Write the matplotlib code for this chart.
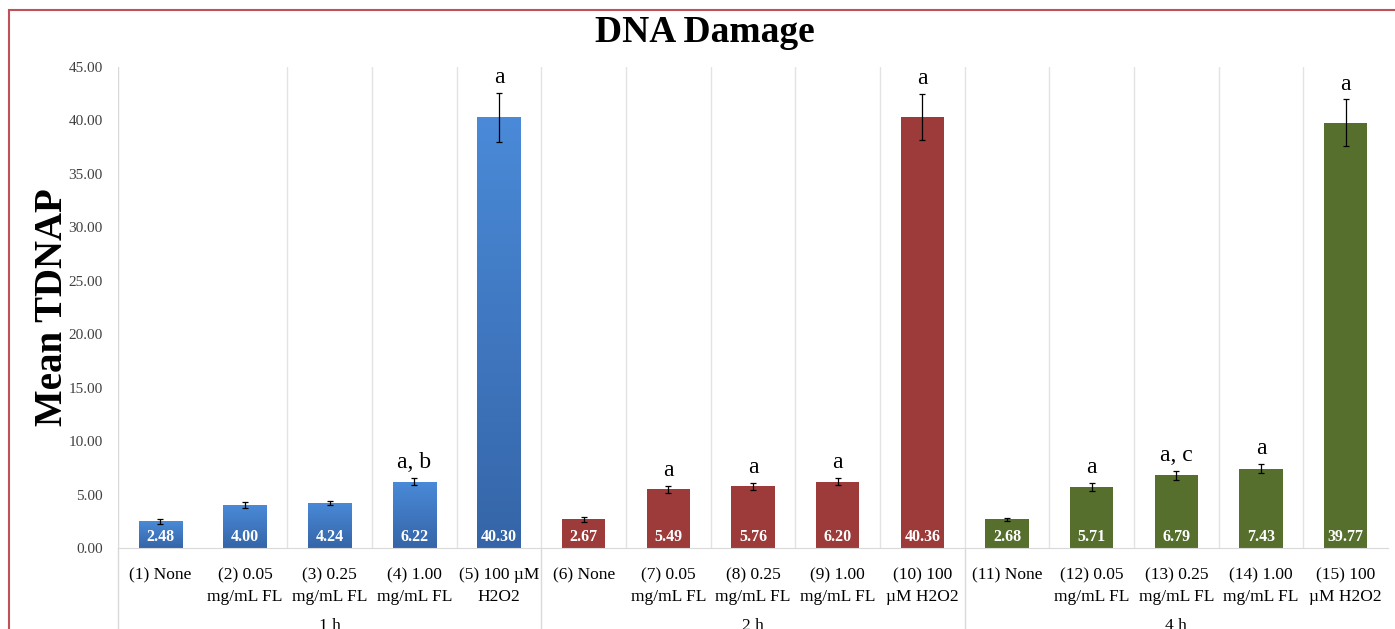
import matplotlib
matplotlib.use("Agg")
import matplotlib.pyplot as plt
import numpy as np
from matplotlib.colors import LinearSegmentedColormap
from matplotlib.patches import Rectangle
from matplotlib.transforms import blended_transform_factory

plt.rcParams["font.family"] = ["Liberation Serif", "DejaVu Serif"]

# data
labels = [
    "(1) None", "(2) 0.05\nmg/mL FL", "(3) 0.25\nmg/mL FL", "(4) 1.00\nmg/mL FL", "(5) 100 µM\nH2O2",
    "(6) None", "(7) 0.05\nmg/mL FL", "(8) 0.25\nmg/mL FL", "(9) 1.00\nmg/mL FL", "(10) 100\nµM H2O2",
    "(11) None", "(12) 0.05\nmg/mL FL", "(13) 0.25\nmg/mL FL", "(14) 1.00\nmg/mL FL", "(15) 100\nµM H2O2",
]
means = [2.48, 4.00, 4.24, 6.22, 40.30,
         2.67, 5.49, 5.76, 6.20, 40.36,
         2.68, 5.71, 6.79, 7.43, 39.77]
errors = [0.2, 0.3, 0.2, 0.35, 2.3,
          0.25, 0.3, 0.35, 0.35, 2.15,
          0.15, 0.35, 0.4, 0.45, 2.2]
letters = ["", "", "", "a, b", "a",
           "", "a", "a", "a", "a",
           "", "a", "a, c", "a", "a"]
groups = ["1 h", "2 h", "4 h"]
group_colors = ["#3E7BC8", "#9C3B39", "#566F2D"]
yticks = np.arange(0, 46, 5)

fig = plt.figure(figsize=(13.95, 6.29), dpi=100)
ax = fig.add_axes([118 / 1395, 1 - 548 / 629, 1270 / 1395, 481 / 629])

n = len(means)
x = np.arange(n)
width = 0.51
blue_cmap = LinearSegmentedColormap.from_list("blue", ["#3565A8", "#4A8AD8"])

for i in range(n):
    g = i // 5
    if g == 0:
        bar = ax.bar(x[i], means[i], width, color="none", edgecolor="none", zorder=2)[0]
        grad = np.linspace(0, 1, 256).reshape(-1, 1)
        im = ax.imshow(grad, extent=[x[i] - width / 2, x[i] + width / 2, 0, means[i]],
                       origin="lower", aspect="auto", cmap=blue_cmap, zorder=2)
        im.set_clip_path(bar)
    else:
        ax.bar(x[i], means[i], width, color=group_colors[g], edgecolor="none", zorder=2)
    ax.errorbar(x[i], means[i], yerr=errors[i], fmt="none", ecolor="black",
                elinewidth=0.9, capsize=2, capthick=0.9, zorder=3)
    ax.text(x[i], 1.0, f"{means[i]:.2f}", ha="center", va="center", color="white",
            fontsize=11.5, fontweight="bold", zorder=4)
    if letters[i]:
        ax.text(x[i], means[i] + errors[i] + 0.45, letters[i], ha="center", va="bottom",
                fontsize=17)

ax.set_xlim(-0.5, n - 0.5)
ax.set_ylim(0, 45)
ax.set_yticks(yticks)
ax.set_yticklabels([f"{v:.2f}" for v in yticks], fontsize=11, color="#404040")
ax.set_xticks(x)
ax.set_xticklabels(labels, fontsize=12.5, va="top", linespacing=1.45)
ax.tick_params(axis="both", length=0)
ax.tick_params(axis="x", pad=14)
ax.tick_params(axis="y", pad=11)

for s in ["top", "right", "left"]:
    ax.spines[s].set_visible(False)
ax.spines["bottom"].set_color("#D9D9D9")

# vertical category gridlines
for k in range(2, n):
    ax.axvline(k - 0.5, color="#E3E3E3", linewidth=1, zorder=0)
ax.axvline(-0.5, color="#D9D9D9", linewidth=1, zorder=0)

# group separators and labels below the axis
trans = blended_transform_factory(ax.transData, ax.transAxes)
for k in range(0, n, 5):
    ax.plot([k - 0.5, k - 0.5], [0, -0.2], color="#D9D9D9", linewidth=1,
            transform=trans, clip_on=False)
for g, name in enumerate(groups):
    ax.text(g * 5 + 2, -0.145, name, transform=trans, ha="center", va="top", fontsize=12.5)

ax.set_ylabel("Mean TDNAP", fontsize=28, fontweight="bold")
ax.yaxis.set_label_coords(-0.037, 0.5)
fig.text(705 / 1395, 1 - 33 / 629, "DNA Damage", ha="center", va="center",
         fontsize=27, fontweight="bold")

# outer chart border
fig.patches.append(Rectangle((9 / 1395, -0.1), 1.2, 1 - 10 / 629 + 0.1,
                             transform=fig.transFigure, fill=False,
                             edgecolor="#C0505A", linewidth=1.5))

fig.savefig("out.png", dpi=100)
